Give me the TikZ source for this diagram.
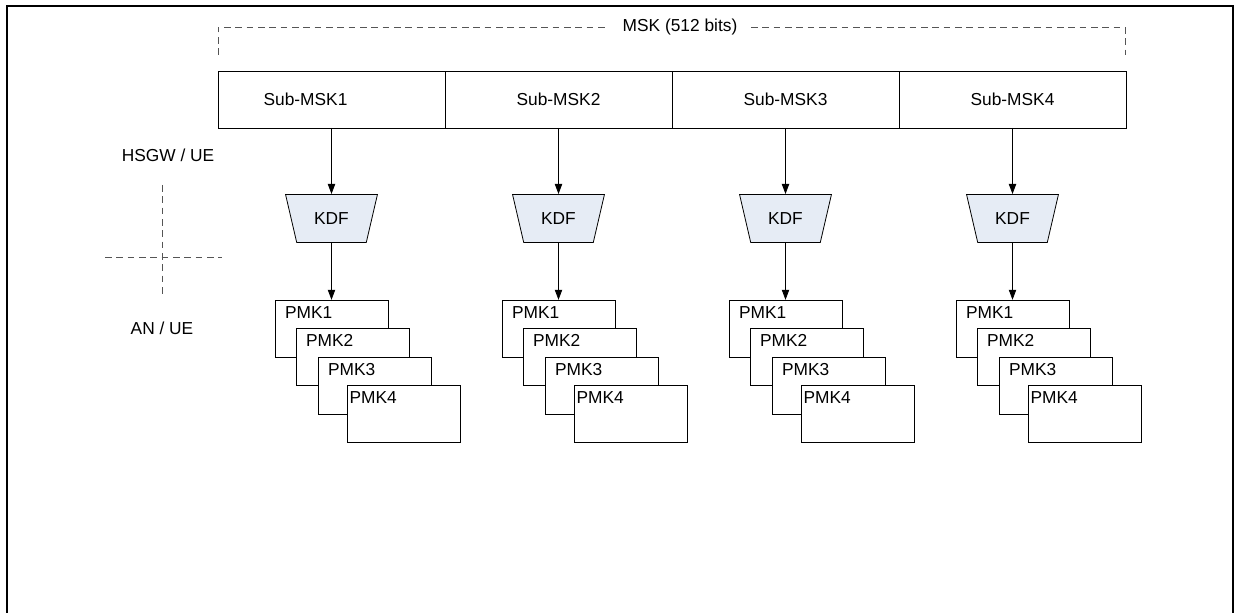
\documentclass[tikz,border=0pt]{standalone}
\usepackage{fontspec}
\setmainfont{Liberation Sans}
\usetikzlibrary{arrows.meta,positioning,shapes.geometric}
\definecolor{kdffill}{HTML}{E6ECF5}
\definecolor{dashgray}{HTML}{555555}
\newcommand\kfont{\fontsize{13}{15}\selectfont}
\tikzset{
  sub/.style={draw,minimum width=170.25pt,minimum height=42.75pt,inner sep=0pt,outer sep=0pt,font=\kfont},
  kdf/.style={draw,fill=kdffill,trapezium,shape border rotate=180,
    trapezium left angle=65,trapezium right angle=65,trapezium stretches=true,
    minimum width=69pt,minimum height=36pt,inner sep=0pt,font=\kfont},
  pmk/.style={draw,fill=white,minimum width=84.75pt,minimum height=42.75pt,inner sep=0pt},
  pmktext/.style={anchor=north west,inner sep=0pt,font=\kfont,yshift=-4.5pt},
  arrow/.style={-{Triangle[length=7.5pt,width=5.5pt]},draw=black},
  divide/.style={draw=dashgray,dash pattern=on 5pt off 3.5pt},
  frame/.style={line width=1.5pt}
}
\begin{document}
\begin{tikzpicture}[x=0.75pt,y=-0.75pt,line width=0.6pt]
  \useasboundingbox (0,0) rectangle (1238,613);
  \draw[frame] (7,613) |- (1233,6) -- (1233,613);
  % MSK bracket
  \node[font=\kfont,fill=white,inner xsep=10pt] (msk) at (680,27) {MSK (512 bits)};
  \coordinate (mskl) at (218,55);
  \coordinate (mskr) at (1125,55);
  \draw[divide] (mskl) |- (msk.west);
  \draw[divide] (msk.east) -| (mskr);
  % sub keys
  \node[sub,label={[font=\kfont,xshift=-19.5pt]center:Sub-MSK1}] (s1) at (331.5,99.5) {};
  \node[sub,right=0pt of s1] (s2) {Sub-MSK2};
  \node[sub,right=0pt of s2] (s3) {Sub-MSK3};
  \node[sub,right=0pt of s3] (s4) {Sub-MSK4};
  % left side
  \node[font=\kfont] (hsgw) at (168,155) {HSGW / UE};
  \node[font=\kfont] (an) at (162,328) {AN / UE};
  \coordinate (vt) at (162,185);
  \coordinate (vb) at (162,297);
  \coordinate (hl) at (105,257);
  \coordinate (hr) at (222,257);
  \draw[divide] (vt) -- (vb);
  \draw[divide] (hl) -- (hr);
  % KDF and PMKs
  \foreach \i in {1,2,3,4}{
    \node[kdf,below=49.5pt of s\i] (k\i) {KDF};
    \node[pmk,below=42.75pt of k\i,label={[pmktext,xshift=7.5pt]north west:PMK1}] (p\i1) {};
    \node[pmk,anchor=north west,label={[pmktext,xshift=7.5pt]north west:PMK2}] (p\i2) at ([shift={(21,28)}]p\i1.north west) {};
    \node[pmk,anchor=north west,label={[pmktext,xshift=7.5pt]north west:PMK3}] (p\i3) at ([shift={(22,29)}]p\i2.north west) {};
    \node[pmk,anchor=north west,label={[pmktext,xshift=2pt]north west:PMK4}] (p\i4) at ([shift={(29,28)}]p\i3.north west) {};
    \draw[arrow] (s\i) -- (k\i);
    \draw[arrow] (k\i) -- (p\i1);
  }
\end{tikzpicture}
\end{document}
